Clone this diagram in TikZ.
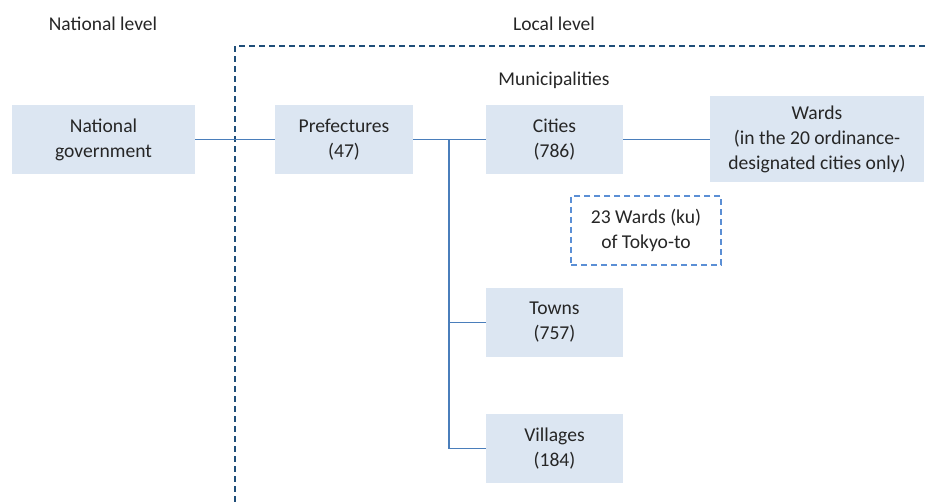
\documentclass[tikz,border=0pt]{standalone}
\usepackage{fontspec}
\setmainfont{Carlito}
\usepackage{tikz}
\usetikzlibrary{positioning, calc}
\definecolor{boxfill}{HTML}{DCE6F2}
\definecolor{linkblue}{HTML}{4A7EBB}
\definecolor{framenavy}{HTML}{1F4E79}
\definecolor{kublue}{HTML}{5B8FD5}

\tikzset{
  unit/.style={fill=boxfill, align=center, minimum height=69pt, inner sep=2pt},
  link/.style={draw=linkblue, line width=1.5pt},
  level/.style={font=\fontsize{19.5}{23}\selectfont}
}

\begin{document}
\begin{tikzpicture}[x=1pt, y=-1pt, font=\fontsize{19.6}{25}\selectfont, text=black!85]
  \useasboundingbox (0,0) rectangle (927,502);
  % headings
  \node[level] (natlevel) at (103,24) {National level};
  \node[level] (loclevel) at (554,24) {Local level};
  \node[level] (munis) at (554,80) {Municipalities};
  % local level frame
  \coordinate (framecorner) at (235,46);
  \coordinate (framebottom) at (235,502);
  \coordinate (frameright) at (927,46);
  \draw[framenavy, line width=1.4pt, dash pattern=on 6pt off 4pt]
    (framebottom) -- (framecorner) -- (frameright);
  % units
  \node[unit, minimum width=183pt] (natgov) at (103.5,139.5) {National\\government};
  \node[unit, minimum width=138pt] (pref) at (344,139.5) {Prefectures\\(47)};
  \node[unit, minimum width=137pt] (cities) at (554.5,139.5) {Cities\\(786)};
  \node[unit, minimum width=214pt, minimum height=86pt] (wards) at (817,139.5)
    {Wards\\(in the 20 ordinance-\\designated cities only)};
  \node[align=center, minimum width=150pt, minimum height=69pt,
    draw=kublue, line width=1.5pt, dash pattern=on 6pt off 4pt] (tokyo) at (646,230.5)
    {23 Wards (ku)\\of Tokyo-to};
  \node[unit, minimum width=137pt] (towns) at (554.5,322.5) {Towns\\(757)};
  \node[unit, minimum width=137pt] (villages) at (554.5,448.5) {Villages\\(184)};
  % connectors
  \draw[link] (natgov) -- (pref);
  \draw[link] (pref) -- (cities);
  \draw[link] (cities) -- (wards);
  \coordinate (split) at (449,139.5);
  \draw[link] (split) |- (towns.west);
  \draw[link] (split) |- (villages.west);
\end{tikzpicture}
\end{document}
